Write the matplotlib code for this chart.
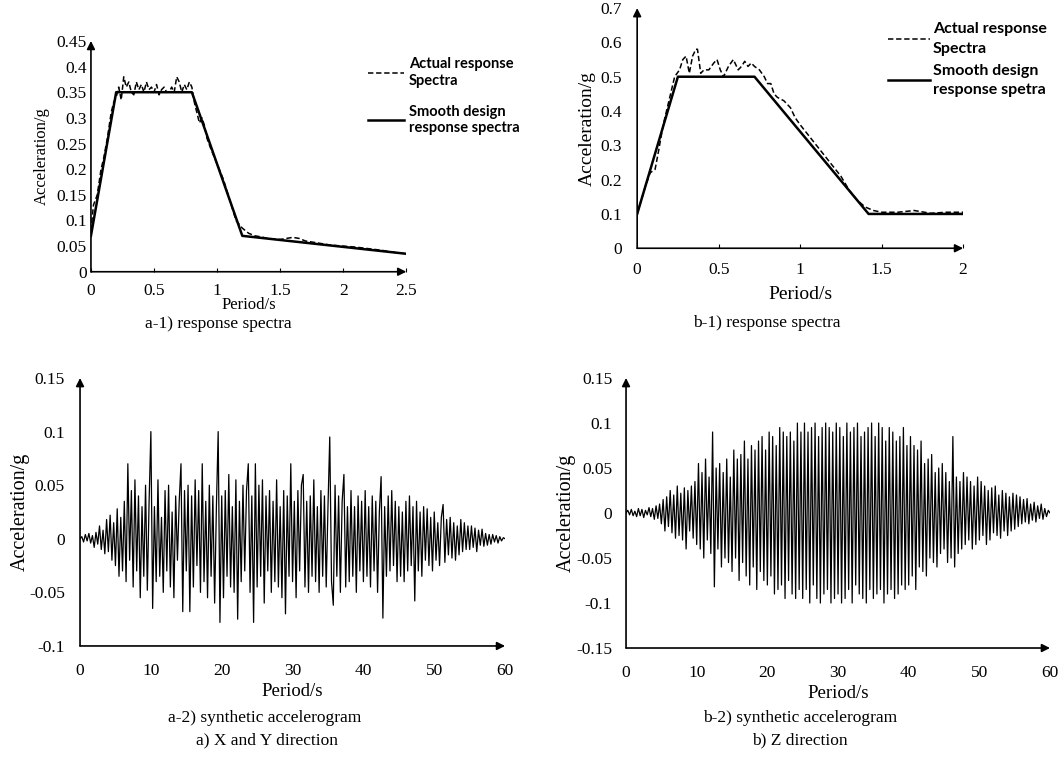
import numpy as np
import matplotlib
matplotlib.use("Agg")
import matplotlib.pyplot as plt
from matplotlib.ticker import FuncFormatter

plt.rcParams['font.family'] = ['Liberation Serif']
plt.rcParams['axes.unicode_minus'] = False

# ---- a-1) response spectra (X and Y direction) ----
a_design_t = [0, 0.2, 0.8, 1.2, 2.5]
a_design_acc = [0.07, 0.35, 0.35, 0.07, 0.035]
a_actual_t = [0, 0.02, 0.05, 0.08, 0.1, 0.13, 0.16, 0.18, 0.2, 0.22, 0.24, 0.26,
              0.28, 0.3, 0.32, 0.34, 0.36, 0.38, 0.4, 0.42, 0.44, 0.46, 0.48, 0.5,
              0.52, 0.54, 0.56, 0.58, 0.6, 0.62, 0.64, 0.66, 0.68, 0.7, 0.72, 0.74,
              0.76, 0.78, 0.8, 0.82, 0.84, 0.86, 0.88, 0.9, 0.92, 0.95, 1.0, 1.05,
              1.1, 1.15, 1.2, 1.25, 1.3, 1.35, 1.4, 1.5, 1.6, 1.65, 1.7, 1.8, 1.9,
              2.0, 2.1, 2.2, 2.3, 2.4, 2.5]
a_actual_acc = [0.08, 0.13, 0.15, 0.2, 0.22, 0.26, 0.31, 0.33, 0.34, 0.36, 0.335,
                0.38, 0.36, 0.37, 0.35, 0.345, 0.37, 0.355, 0.365, 0.35, 0.37,
                0.355, 0.36, 0.35, 0.365, 0.345, 0.355, 0.36, 0.35, 0.35, 0.36,
                0.35, 0.38, 0.37, 0.35, 0.365, 0.355, 0.37, 0.36, 0.33, 0.31, 0.29,
                0.3, 0.285, 0.26, 0.24, 0.21, 0.18, 0.14, 0.1, 0.085, 0.075, 0.07,
                0.068, 0.065, 0.063, 0.067, 0.065, 0.06, 0.056, 0.052, 0.05, 0.048,
                0.045, 0.042, 0.038, 0.035]

# ---- b-1) response spectra (Z direction) ----
b_design_t = [0, 0.25, 0.72, 1.42, 2.0]
b_design_acc = [0.1, 0.5, 0.5, 0.1, 0.1]
b_actual_t = [0, 0.05, 0.08, 0.11, 0.13, 0.16, 0.2, 0.23, 0.26, 0.28, 0.3, 0.32,
              0.34, 0.36, 0.37, 0.39, 0.41, 0.44, 0.47, 0.49, 0.51, 0.53, 0.56,
              0.59, 0.62, 0.64, 0.66, 0.68, 0.7, 0.72, 0.75, 0.78, 0.8, 0.82, 0.84,
              0.86, 0.9, 0.94, 0.97, 1.0, 1.05, 1.1, 1.15, 1.2, 1.25, 1.3, 1.35,
              1.4, 1.45, 1.5, 1.6, 1.7, 1.8, 1.9, 2.0]
b_actual_acc = [0.1, 0.18, 0.22, 0.23, 0.28, 0.36, 0.44, 0.5, 0.52, 0.55, 0.56,
                0.51, 0.56, 0.58, 0.58, 0.51, 0.52, 0.52, 0.54, 0.55, 0.52, 0.5,
                0.53, 0.55, 0.52, 0.53, 0.545, 0.53, 0.54, 0.53, 0.52, 0.5, 0.48,
                0.48, 0.45, 0.44, 0.43, 0.41, 0.38, 0.36, 0.33, 0.3, 0.27, 0.24,
                0.21, 0.17, 0.14, 0.12, 0.11, 0.105, 0.105, 0.11, 0.102, 0.105,
                0.105]

# ---- synthetic accelerograms, sampled every 0.25 s, values in 0.001 g ----
dt = 0.25
xy_milli_g = [
    0, 2, -3, 4, -2, 5, -4, 3, -8, 6, -5, 12, -10, 8, -14, 18, -12, 22, -20, 15,
    -25, 28, -35, 20, -30, 35, -40, 70, -20, 45, -45, 55, -30, 40, -55, 30, -35, 50, -48, 35,
    100, -65, 30, -40, 55, -35, 20, -50, 45, -30, 50, -45, 25, -55, 40, -20, 35, 70, -68, 45,
    -30, 50, -68, 40, -45, 55, -25, 45, -50, 70, -40, 35, -55, 50, -35, 40, -60, 30, 100, -78,
    40, -55, 45, -35, 60, -45, 30, -50, 55, -75, 35, -40, 50, -30, 45, 70, -50, 40, -78, 70,
    -45, 50, -35, 55, -60, 40, -30, 45, -50, 35, -40, 55, -45, 30, -55, 45, -70, 40, -35, 70,
    -40, 35, -55, 45, -30, 50, 60, -45, 35, -50, 40, -35, 55, -40, 30, -50, 45, -35, 40, -45,
    30, 95, -40, -62, 50, -35, 40, -50, 35, 60, -45, 30, -40, 45, -35, 30, -50, 40, -30, 35,
    -40, 45, -35, 30, -45, 40, -30, 35, -50, 25, 58, -74, 30, -35, 40, -30, 45, -25, 35, -40,
    30, -35, 25, -40, 35, -30, 40, -25, 30, -58, 35, -30, 25, -35, 30, -20, 28, -25, 20, -30,
    25, -20, 15, -25, 20, 32, -22, 18, -15, 20, -18, 15, -20, 12, -15, 18, -12, 15, -10, 12,
    -10, 12, -8, 10, -12, 8, -6, 9, -7, 5, -6, 4, -5, 4, -3, 3, -4, 2, -2, 1,
    0]
z_milli_g = [
    0, 3, -2, 4, -3, 2, -4, 5, -3, 4, -5, 3, -2, 6, -4, 5, -7, 8, -6, 10,
    -12, 15, -20, 18, -15, 25, -22, 20, -28, 30, -25, 22, -30, 28, -40, 25, -20, 30, -28, 35,
    -35, 55, -40, 45, -50, 60, -30, 40, -45, 90, -82, 50, -40, 55, -60, 45, -50, 60, -55, 40,
    -65, 70, -50, 60, -75, 65, -55, 80, -70, 60, -80, 75, -60, 70, -85, 80, -65, 85, -75, 70,
    -80, 90, -70, 85, -90, 75, -85, 95, -80, 90, -95, 85, -75, 90, -90, 80, -95, 100, -85, 90,
    -95, 100, -85, 90, -100, 95, -80, 100, -95, 85, -100, 95, -90, 100, -85, 95, -100, 90, -95, 100,
    -90, 95, -100, 85, -95, 100, -85, 90, -100, 95, -80, 100, -90, 85, -95, 90, -100, 95, -85, 100,
    -95, 85, -90, 100, -85, 95, -100, 80, -90, 95, -85, 90, -95, 80, -90, 85, -80, 95, -85, 75,
    -80, 85, -70, 75, -85, 70, -60, 80, -65, 55, -70, 60, -50, 65, -55, 45, -60, 50, -45, 55,
    -40, 45, -55, 35, -50, 85, -60, 40, -45, 35, -40, 45, -35, 40, -30, 35, -40, 30, -35, 40,
    -30, 35, -25, 30, -35, 25, -30, 28, -22, 30, -25, 20, -28, 25, -20, 22, -25, 18, -20, 22,
    -18, 20, -15, 18, -12, 15, -10, 16, -12, 10, -8, 12, -10, 8, -6, 10, -7, 5, -4, 3,
    0]


def arrow_axes(ax):
    """Excel style axes: left and bottom lines ending in arrow heads."""
    for s in ax.spines.values():
        s.set_visible(False)
    kw = dict(arrowstyle='-|>', color='black', lw=1.2, mutation_scale=12,
              shrinkA=0, shrinkB=0)
    ax.annotate('', xy=(1.0, 0), xytext=(0, 0), xycoords='axes fraction',
                arrowprops=kw, annotation_clip=False)
    ax.annotate('', xy=(0, 1.0), xytext=(0, 0), xycoords='axes fraction',
                arrowprops=kw, annotation_clip=False)


fmt = FuncFormatter(lambda v, p: '{:g}'.format(round(v, 3)))
fig = plt.figure(figsize=(10.6, 7.58), dpi=100)

# a-1
ax1 = fig.add_axes([0.0858, 0.6415, 0.2975, 0.3045])
ax1.plot(a_actual_t, a_actual_acc, color='black', lw=1.1, ls=(0, (3.5, 1.8)),
         label='Actual response\nSpectra')
ax1.plot(a_design_t, a_design_acc, color='black', lw=1.8,
         label='Smooth design\nresponse spectra')
ax1.set_xlim(0, 2.5)
ax1.set_ylim(0, 0.45)
ax1.set_xticks([0, 0.5, 1, 1.5, 2, 2.5])
ax1.set_yticks(np.arange(0, 0.451, 0.05))
ax1.xaxis.set_major_formatter(fmt)
ax1.yaxis.set_major_formatter(fmt)
ax1.tick_params(axis='x', direction='in', length=3, pad=8, labelsize=12.5)
ax1.tick_params(axis='y', length=0, pad=3, labelsize=12.5)
ax1.set_xlabel('Period/s', fontsize=12, labelpad=-1)
ax1.set_ylabel('Acceleration/g', fontsize=12, labelpad=5)
arrow_axes(ax1)
leg1 = ax1.legend(loc='upper left', bbox_to_anchor=(0.86, 0.955), frameon=False,
                  handlelength=2.5, handletextpad=0.3, labelspacing=1.15,
                  borderaxespad=0,
                  prop={'family': 'Lato', 'weight': 'bold', 'size': 10.5})
for t in leg1.get_texts():
    t.set_linespacing(1.25)

# b-1
ax2 = fig.add_axes([0.6011, 0.6725, 0.3075, 0.3168])
ax2.plot(b_actual_t, b_actual_acc, color='black', lw=1.1, ls=(0, (3.5, 1.8)),
         label='Actual response\nSpectra')
ax2.plot(b_design_t, b_design_acc, color='black', lw=1.8,
         label='Smooth design\nresponse spetra')
ax2.set_xlim(0, 2)
ax2.set_ylim(0, 0.7)
ax2.set_xticks([0, 0.5, 1, 1.5, 2])
ax2.set_yticks(np.arange(0, 0.71, 0.1))
ax2.xaxis.set_major_formatter(fmt)
ax2.yaxis.set_major_formatter(fmt)
ax2.tick_params(axis='x', direction='in', length=3, pad=10, labelsize=12.5)
ax2.tick_params(axis='y', length=0, pad=11, labelsize=12.5)
ax2.set_xlabel('Period/s', fontsize=14, labelpad=6)
ax2.set_ylabel('Acceleration/g', fontsize=14, labelpad=3)
arrow_axes(ax2)
leg2 = ax2.legend(loc='upper left', bbox_to_anchor=(0.75, 0.968), frameon=False,
                  handlelength=2.6, handletextpad=0.2, labelspacing=0.5,
                  borderaxespad=0,
                  prop={'family': 'Lato', 'weight': 'bold', 'size': 11.5})
for t in leg2.get_texts():
    t.set_linespacing(1.5)

# a-2
xy_t = np.arange(len(xy_milli_g)) * dt
ax3 = fig.add_axes([0.0755, 0.1478, 0.401, 0.3535])
ax3.plot(xy_t, np.array(xy_milli_g) / 1000.0, color='black', lw=0.9)
ax3.set_xlim(0, 60)
ax3.set_ylim(-0.1, 0.15)
ax3.set_xticks(range(0, 61, 10))
ax3.set_yticks([-0.1, -0.05, 0, 0.05, 0.1, 0.15])
ax3.yaxis.set_major_formatter(fmt)
ax3.tick_params(length=0, labelsize=12.5)
ax3.tick_params(axis='y', pad=11)
ax3.tick_params(axis='x', pad=12)
ax3.set_xlabel('Period/s', fontsize=13.5, labelpad=3)
ax3.set_ylabel('Acceleration/g', fontsize=14.5, labelpad=-1)
arrow_axes(ax3)

# b-2
z_t = np.arange(len(z_milli_g)) * dt
ax4 = fig.add_axes([0.5906, 0.1451, 0.4, 0.3562])
ax4.plot(z_t, np.array(z_milli_g) / 1000.0, color='black', lw=0.9)
ax4.set_xlim(0, 60)
ax4.set_ylim(-0.15, 0.15)
ax4.set_xticks(range(0, 61, 10))
ax4.set_yticks([-0.15, -0.1, -0.05, 0, 0.05, 0.1, 0.15])
ax4.yaxis.set_major_formatter(fmt)
ax4.tick_params(length=0, labelsize=12.5)
ax4.tick_params(axis='y', pad=10)
ax4.tick_params(axis='x', pad=12)
ax4.set_xlabel('Period/s', fontsize=13.5, labelpad=3)
ax4.set_ylabel('Acceleration/g', fontsize=14.5, labelpad=0)
arrow_axes(ax4)

# captions
cap = dict(ha='center', va='center', fontsize=12.5)
fig.text(218 / 1060, 1 - 324 / 758, 'a-1) response spectra', **cap)
fig.text(767 / 1060, 1 - 323 / 758, 'b-1) response spectra', **cap)
fig.text(265 / 1060, 1 - 718 / 758, 'a-2) synthetic accelerogram', **cap)
fig.text(267 / 1060, 1 - 740 / 758, 'a) X and Y direction', **cap)
fig.text(800 / 1060, 1 - 718 / 758, 'b-2) synthetic accelerogram', **cap)
fig.text(800 / 1060, 1 - 740 / 758, 'b) Z direction', **cap)

fig.savefig('out.png', dpi=100)
